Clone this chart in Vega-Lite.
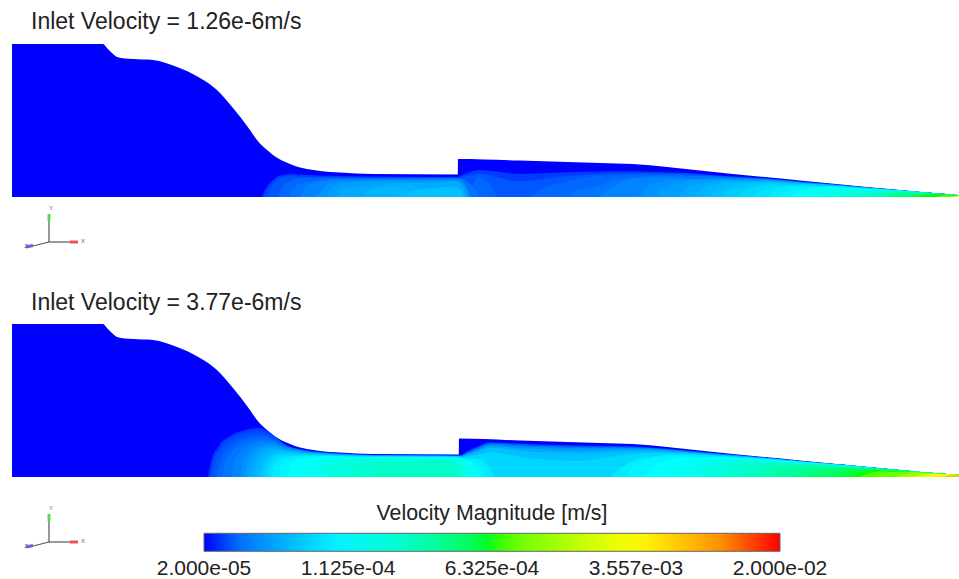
{"$schema":"https://vega.github.io/schema/vega-lite/v6.json","width":959,"height":579,"padding":0,"autosize":{"type":"fit","contains":"padding"},"background":"white","view":{"stroke":null},
"datasets":{
"wall":[{"x":12,"y":44},{"x":103,"y":44},{"x":107,"y":48},{"x":112,"y":53},{"x":117,"y":57},{"x":125,"y":58.5},{"x":133,"y":59},{"x":153,"y":60},{"x":177,"y":67},{"x":200,"y":78},{"x":217,"y":90},{"x":233,"y":108},{"x":250,"y":130},{"x":257,"y":140},{"x":267,"y":150},{"x":273,"y":155},{"x":283,"y":161},{"x":290,"y":164},{"x":300,"y":167.5},{"x":307,"y":169},{"x":320,"y":171},{"x":340,"y":172.5},{"x":373,"y":174},{"x":457.9,"y":174.5},{"x":458,"y":159},{"x":520,"y":160.5},{"x":600,"y":163},{"x":633,"y":164},{"x":667,"y":167},{"x":733,"y":174},{"x":800,"y":180.5},{"x":867,"y":187},{"x":933,"y":193},{"x":959,"y":195}],
"wall2":[{"x":12,"y":324},{"x":103,"y":324},{"x":107,"y":328},{"x":112,"y":333},{"x":117,"y":337},{"x":125,"y":338.5},{"x":133,"y":339},{"x":153,"y":340},{"x":177,"y":347},{"x":200,"y":358},{"x":217,"y":370},{"x":233,"y":388},{"x":250,"y":410},{"x":257,"y":420},{"x":267,"y":430},{"x":273,"y":435},{"x":283,"y":441},{"x":290,"y":444},{"x":300,"y":447.5},{"x":307,"y":449},{"x":320,"y":451},{"x":340,"y":452.5},{"x":373,"y":454},{"x":458.9,"y":454.5},{"x":459,"y":438.5},{"x":520,"y":440.5},{"x":600,"y":443},{"x":633,"y":444},{"x":667,"y":447},{"x":733,"y":454},{"x":800,"y":460.5},{"x":867,"y":467},{"x":933,"y":473},{"x":959,"y":474.7}],
"top":[
{"x":262,"y":197,"v":2.3e-5},{"x":265,"y":190,"v":2.3e-5},{"x":271,"y":182,"v":2.3e-5},{"x":280,"y":175.5,"v":2.3e-5},{"x":290,"y":174,"v":2.3e-5},{"x":300,"y":174.6,"v":2.3e-5},{"x":320,"y":175.5,"v":2.3e-5},{"x":340,"y":176,"v":2.3e-5},{"x":400,"y":176.8,"v":2.3e-5},{"x":457,"y":177,"v":2.3e-5},{"x":462,"y":175,"v":2.3e-5},{"x":470,"y":172,"v":2.3e-5},{"x":480,"y":169.9,"v":2.3e-5},{"x":520,"y":174,"v":2.3e-5},{"x":560,"y":172.5,"v":2.3e-5},{"x":620,"y":171.2,"v":2.3e-5},{"x":680,"y":172.8,"v":2.3e-5},{"x":730,"y":176.3,"v":2.3e-5},{"x":770,"y":178.6,"v":2.3e-5},{"x":800,"y":181.7,"v":2.3e-5},{"x":830,"y":184.1,"v":2.3e-5},{"x":867,"y":187.4,"v":2.3e-5},{"x":900,"y":190.2,"v":2.3e-5},{"x":933,"y":193.1,"v":2.3e-5},{"x":959,"y":195.2,"v":2.3e-5},
{"x":265,"y":197,"v":2.46e-5},{"x":268,"y":190,"v":2.46e-5},{"x":274,"y":181.5,"v":2.46e-5},{"x":282,"y":176.5,"v":2.46e-5},{"x":292,"y":175.5,"v":2.46e-5},{"x":302,"y":178,"v":2.46e-5},{"x":310,"y":197,"v":2.46e-5},
{"x":268,"y":197,"v":2.64e-5},{"x":271,"y":189,"v":2.64e-5},{"x":277,"y":181,"v":2.64e-5},{"x":285,"y":177.5,"v":2.64e-5},{"x":300,"y":177,"v":2.64e-5},{"x":320,"y":177,"v":2.64e-5},{"x":340,"y":177.2,"v":2.64e-5},{"x":400,"y":177.6,"v":2.64e-5},{"x":457,"y":177.6,"v":2.64e-5},{"x":465,"y":176,"v":2.64e-5},{"x":472,"y":175,"v":2.64e-5},{"x":480,"y":173.7,"v":2.64e-5},{"x":500,"y":178,"v":2.64e-5},{"x":520,"y":181.3,"v":2.64e-5},{"x":560,"y":176.7,"v":2.64e-5},{"x":620,"y":172.9,"v":2.64e-5},{"x":680,"y":173.6,"v":2.64e-5},{"x":730,"y":176.6,"v":2.64e-5},{"x":770,"y":178.9,"v":2.64e-5},{"x":800,"y":181.7,"v":2.64e-5},{"x":830,"y":184.2,"v":2.64e-5},{"x":867,"y":187.4,"v":2.64e-5},{"x":900,"y":190.2,"v":2.64e-5},{"x":933,"y":193.1,"v":2.64e-5},{"x":959,"y":195.2,"v":2.64e-5},
{"x":278,"y":197,"v":2.92e-5},{"x":281,"y":190,"v":2.92e-5},{"x":288,"y":182,"v":2.92e-5},{"x":298,"y":179,"v":2.92e-5},{"x":315,"y":178.3,"v":2.92e-5},{"x":335,"y":178,"v":2.92e-5},{"x":350,"y":197,"v":2.92e-5},
{"s":"r","x":470,"y":197,"v":2.92e-5},{"s":"r","x":478,"y":177,"v":2.92e-5},{"s":"r","x":490,"y":185,"v":2.92e-5},{"s":"r","x":497,"y":197,"v":2.92e-5},
{"s":"t","x":530,"y":197,"v":2.92e-5},{"s":"t","x":540,"y":190,"v":2.92e-5},{"s":"t","x":560,"y":183,"v":2.92e-5},{"s":"t","x":620,"y":175,"v":2.92e-5},{"s":"t","x":680,"y":174.5,"v":2.92e-5},{"s":"t","x":700,"y":197,"v":2.92e-5},
{"x":288,"y":197,"v":3.24e-5},{"x":292,"y":190,"v":3.24e-5},{"x":300,"y":184,"v":3.24e-5},{"x":320,"y":180,"v":3.24e-5},{"x":340,"y":178.6,"v":3.24e-5},{"x":400,"y":178.2,"v":3.24e-5},{"x":457,"y":178.2,"v":3.24e-5},{"x":466,"y":181,"v":3.24e-5},{"x":474,"y":188,"v":3.24e-5},{"x":480,"y":197,"v":3.24e-5},
{"s":"t","x":570,"y":197,"v":3.24e-5},{"s":"t","x":575,"y":190,"v":3.24e-5},{"s":"t","x":590,"y":188,"v":3.24e-5},{"s":"t","x":620,"y":178.6,"v":3.24e-5},{"s":"t","x":680,"y":175.6,"v":3.24e-5},{"s":"t","x":730,"y":177.2,"v":3.24e-5},{"s":"t","x":770,"y":179.2,"v":3.24e-5},{"s":"t","x":800,"y":181.9,"v":3.24e-5},{"s":"t","x":830,"y":184.3,"v":3.24e-5},{"s":"t","x":867,"y":187.4,"v":3.24e-5},{"s":"t","x":900,"y":190.2,"v":3.24e-5},{"s":"t","x":933,"y":193.1,"v":3.24e-5},{"s":"t","x":959,"y":195.2,"v":3.24e-5},
{"x":300,"y":197,"v":3.6e-5},{"x":304,"y":190,"v":3.6e-5},{"x":312,"y":183.5,"v":3.6e-5},{"x":325,"y":180.5,"v":3.6e-5},{"x":345,"y":179.3,"v":3.6e-5},{"x":380,"y":179.2,"v":3.6e-5},{"x":390,"y":197,"v":3.6e-5},
{"s":"t","x":600,"y":197,"v":3.6e-5},{"s":"t","x":607,"y":190,"v":3.6e-5},{"s":"t","x":620,"y":183,"v":3.6e-5},{"s":"t","x":640,"y":178,"v":3.6e-5},{"s":"t","x":680,"y":177.2,"v":3.6e-5},{"s":"t","x":700,"y":197,"v":3.6e-5},
{"x":315,"y":197,"v":3.99e-5},{"x":320,"y":192,"v":3.99e-5},{"x":330,"y":183,"v":3.99e-5},{"x":350,"y":181,"v":3.99e-5},{"x":400,"y":179.8,"v":3.99e-5},{"x":457,"y":179.2,"v":3.99e-5},{"x":465,"y":185,"v":3.99e-5},{"x":470,"y":197,"v":3.99e-5},
{"s":"t","x":632,"y":197,"v":3.99e-5},{"s":"t","x":640,"y":195,"v":3.99e-5},{"s":"t","x":650,"y":184,"v":3.99e-5},{"s":"t","x":680,"y":179.3,"v":3.99e-5},{"s":"t","x":730,"y":178.4,"v":3.99e-5},{"s":"t","x":770,"y":179.8,"v":3.99e-5},{"s":"t","x":800,"y":182.3,"v":3.99e-5},{"s":"t","x":830,"y":184.5,"v":3.99e-5},{"s":"t","x":867,"y":187.6,"v":3.99e-5},{"s":"t","x":900,"y":190.3,"v":3.99e-5},{"s":"t","x":933,"y":193.1,"v":3.99e-5},{"s":"t","x":959,"y":195.2,"v":3.99e-5},
{"x":326,"y":197,"v":4.43e-5},{"x":331,"y":188,"v":4.43e-5},{"x":345,"y":182.5,"v":4.43e-5},{"x":365,"y":181.3,"v":4.43e-5},{"x":400,"y":181.2,"v":4.43e-5},{"x":415,"y":197,"v":4.43e-5},
{"s":"t","x":655,"y":197,"v":4.43e-5},{"s":"t","x":662,"y":190,"v":4.43e-5},{"s":"t","x":680,"y":182.5,"v":4.43e-5},{"s":"t","x":705,"y":179.5,"v":4.43e-5},{"s":"t","x":730,"y":179.2,"v":4.43e-5},{"s":"t","x":745,"y":197,"v":4.43e-5},
{"x":338,"y":197,"v":4.91e-5},{"x":345,"y":188,"v":4.91e-5},{"x":360,"y":186,"v":4.91e-5},{"x":400,"y":182.7,"v":4.91e-5},{"x":457,"y":181.2,"v":4.91e-5},{"x":463,"y":186,"v":4.91e-5},{"x":467,"y":197,"v":4.91e-5},
{"s":"t","x":678,"y":197,"v":4.91e-5},{"s":"t","x":690,"y":186,"v":4.91e-5},{"s":"t","x":730,"y":180.2,"v":4.91e-5},{"s":"t","x":770,"y":180.6,"v":4.91e-5},{"s":"t","x":800,"y":182.7,"v":4.91e-5},{"s":"t","x":830,"y":184.7,"v":4.91e-5},{"s":"t","x":867,"y":187.7,"v":4.91e-5},{"s":"t","x":900,"y":190.4,"v":4.91e-5},{"s":"t","x":933,"y":193.2,"v":4.91e-5},{"s":"t","x":959,"y":195.2,"v":4.91e-5},
{"x":362,"y":197,"v":5.45e-5},{"x":370,"y":190,"v":5.45e-5},{"x":385,"y":186,"v":5.45e-5},{"x":410,"y":184.5,"v":5.45e-5},{"x":430,"y":197,"v":5.45e-5},
{"s":"t","x":693,"y":197,"v":5.45e-5},{"s":"t","x":702,"y":189,"v":5.45e-5},{"s":"t","x":730,"y":182,"v":5.45e-5},{"s":"t","x":770,"y":181.2,"v":5.45e-5},{"s":"t","x":785,"y":197,"v":5.45e-5},
{"x":395,"y":197,"v":6.04e-5},{"x":400,"y":196,"v":6.04e-5},{"x":410,"y":192,"v":6.04e-5},{"x":430,"y":188,"v":6.04e-5},{"x":457,"y":186.4,"v":6.04e-5},{"x":461,"y":190,"v":6.04e-5},{"x":464,"y":197,"v":6.04e-5},
{"s":"t","x":708,"y":197,"v":6.04e-5},{"s":"t","x":715,"y":192,"v":6.04e-5},{"s":"t","x":730,"y":184.2,"v":6.04e-5},{"s":"t","x":770,"y":182,"v":6.04e-5},{"s":"t","x":800,"y":183.3,"v":6.04e-5},{"s":"t","x":830,"y":185,"v":6.04e-5},{"s":"t","x":867,"y":187.9,"v":6.04e-5},{"s":"t","x":900,"y":190.4,"v":6.04e-5},{"s":"t","x":933,"y":193.2,"v":6.04e-5},{"s":"t","x":959,"y":195.2,"v":6.04e-5},
{"x":722,"y":197,"v":6.7e-5},{"x":730,"y":190,"v":6.7e-5},{"x":750,"y":185,"v":6.7e-5},{"x":775,"y":183,"v":6.7e-5},{"x":800,"y":183.7,"v":6.7e-5},{"x":810,"y":197,"v":6.7e-5},
{"x":736,"y":197,"v":7.43e-5},{"x":745,"y":190,"v":7.43e-5},{"x":770,"y":184.6,"v":7.43e-5},{"x":800,"y":184.1,"v":7.43e-5},{"x":830,"y":185.4,"v":7.43e-5},{"x":867,"y":188.1,"v":7.43e-5},{"x":900,"y":190.4,"v":7.43e-5},{"x":933,"y":193.2,"v":7.43e-5},{"x":959,"y":195.2,"v":7.43e-5},
{"x":752,"y":197,"v":8.24e-5},{"x":760,"y":191,"v":8.24e-5},{"x":785,"y":186,"v":8.24e-5},{"x":815,"y":185.8,"v":8.24e-5},{"x":830,"y":197,"v":8.24e-5},
{"x":768,"y":197,"v":9.14e-5},{"x":775,"y":190,"v":9.14e-5},{"x":800,"y":185.9,"v":9.14e-5},{"x":830,"y":185.9,"v":9.14e-5},{"x":867,"y":188.4,"v":9.14e-5},{"x":900,"y":190.5,"v":9.14e-5},{"x":933,"y":193.2,"v":9.14e-5},{"x":959,"y":195.2,"v":9.14e-5},
{"x":779,"y":197,"v":1.01e-4},{"x":787,"y":191,"v":1.01e-4},{"x":810,"y":187.3,"v":1.01e-4},{"x":840,"y":187,"v":1.01e-4},{"x":850,"y":197,"v":1.01e-4},
{"x":790,"y":197,"v":1.125e-4},{"x":800,"y":190.4,"v":1.125e-4},{"x":830,"y":186.9,"v":1.125e-4},{"x":867,"y":188.7,"v":1.125e-4},{"x":900,"y":190.6,"v":1.125e-4},{"x":933,"y":193.3,"v":1.125e-4},{"x":959,"y":195.2,"v":1.125e-4},
{"x":800,"y":197,"v":1.25e-4},{"x":810,"y":192,"v":1.25e-4},{"x":830,"y":187.7,"v":1.25e-4},{"x":860,"y":188.8,"v":1.25e-4},{"x":870,"y":197,"v":1.25e-4},
{"x":810,"y":197,"v":1.38e-4},{"x":830,"y":188.6,"v":1.38e-4},{"x":867,"y":189.4,"v":1.38e-4},{"x":900,"y":190.8,"v":1.38e-4},{"x":933,"y":193.4,"v":1.38e-4},{"x":959,"y":195.3,"v":1.38e-4},
{"x":823,"y":197,"v":1.59e-4},{"x":835,"y":191,"v":1.59e-4},{"x":860,"y":190,"v":1.59e-4},{"x":895,"y":191,"v":1.59e-4},{"x":905,"y":197,"v":1.59e-4},
{"x":836,"y":197,"v":1.82e-4},{"x":850,"y":192,"v":1.82e-4},{"x":867,"y":191.2,"v":1.82e-4},{"x":900,"y":191,"v":1.82e-4},{"x":933,"y":193.3,"v":1.82e-4},{"x":959,"y":195.3,"v":1.82e-4},
{"x":852,"y":197,"v":2.09e-4},{"x":862,"y":193,"v":2.09e-4},{"x":880,"y":191.8,"v":2.09e-4},{"x":915,"y":192.5,"v":2.09e-4},{"x":925,"y":197,"v":2.09e-4},
{"x":868,"y":197,"v":2.4e-4},{"x":880,"y":193,"v":2.4e-4},{"x":900,"y":191.4,"v":2.4e-4},{"x":933,"y":193.4,"v":2.4e-4},{"x":959,"y":195.4,"v":2.4e-4},
{"x":874,"y":197,"v":2.76e-4},{"x":885,"y":194,"v":2.76e-4},{"x":900,"y":191.9,"v":2.76e-4},{"x":925,"y":193.3,"v":2.76e-4},{"x":935,"y":197,"v":2.76e-4},
{"x":880,"y":197,"v":3.17e-4},{"x":900,"y":192.3,"v":3.17e-4},{"x":933,"y":193.5,"v":3.17e-4},{"x":959,"y":195.4,"v":3.17e-4},
{"x":891,"y":197,"v":3.76e-4},{"x":905,"y":194,"v":3.76e-4},{"x":925,"y":193.5,"v":3.76e-4},{"x":940,"y":197,"v":3.76e-4},
{"x":902,"y":197,"v":4.47e-4},{"x":915,"y":194.5,"v":4.47e-4},{"x":933,"y":193.7,"v":4.47e-4},{"x":959,"y":195.4,"v":4.47e-4},
{"x":908,"y":197,"v":5.31e-4},{"x":920,"y":195,"v":5.31e-4},{"x":935,"y":194,"v":5.31e-4},{"x":950,"y":197,"v":5.31e-4},
{"x":915,"y":197,"v":6.32e-4},{"x":933,"y":194.2,"v":6.32e-4},{"x":959,"y":195.5,"v":6.32e-4},
{"x":935,"y":197,"v":8.93e-4},{"x":945,"y":195.5,"v":8.93e-4},{"x":959,"y":195.5,"v":8.93e-4},
{"x":948,"y":197,"v":1.26e-3},{"x":952,"y":196,"v":1.26e-3},{"x":959,"y":195.5,"v":1.26e-3},
{"x":954,"y":197,"v":1.91e-3},{"x":959,"y":195.6,"v":1.91e-3},
{"x":957,"y":197,"v":2.88e-3},{"x":959,"y":195.7,"v":2.88e-3}
],
"bottom":[
{"x":208,"y":477,"v":2.3e-5},{"x":211,"y":462,"v":2.3e-5},{"x":218,"y":447,"v":2.3e-5},{"x":230,"y":436,"v":2.3e-5},{"x":245,"y":430,"v":2.3e-5},{"x":258,"y":428,"v":2.3e-5},{"x":268,"y":431.5,"v":2.3e-5},{"x":280,"y":440.5,"v":2.3e-5},{"x":287,"y":445.4,"v":2.3e-5},{"x":305,"y":450,"v":2.3e-5},{"x":323,"y":452.2,"v":2.3e-5},{"x":345,"y":453.7,"v":2.3e-5},{"x":373,"y":454.9,"v":2.3e-5},{"x":457,"y":455.4,"v":2.3e-5},{"x":460,"y":455.4,"v":2.3e-5},{"x":468,"y":451,"v":2.3e-5},{"x":478,"y":446.5,"v":2.3e-5},{"x":490,"y":442.4,"v":2.3e-5},{"x":520,"y":443.6,"v":2.3e-5},{"x":580,"y":445.6,"v":2.3e-5},{"x":620,"y":446,"v":2.3e-5},{"x":647,"y":447.2,"v":2.3e-5},{"x":680,"y":449.9,"v":2.3e-5},{"x":713,"y":453,"v":2.3e-5},{"x":747,"y":456,"v":2.3e-5},{"x":780,"y":459.1,"v":2.3e-5},{"x":815,"y":462.4,"v":2.3e-5},{"x":847,"y":465,"v":2.3e-5},{"x":875,"y":467.8,"v":2.3e-5},{"x":897,"y":469.7,"v":2.3e-5},{"x":915,"y":471.4,"v":2.3e-5},{"x":930,"y":472.8,"v":2.3e-5},{"x":947,"y":474,"v":2.3e-5},{"x":959,"y":474.9,"v":2.3e-5},
{"x":210,"y":477,"v":2.46e-5},{"x":213,"y":462,"v":2.46e-5},{"x":220,"y":448,"v":2.46e-5},{"x":231,"y":438,"v":2.46e-5},{"x":246,"y":432.5,"v":2.46e-5},{"x":259,"y":431,"v":2.46e-5},{"x":269,"y":434,"v":2.46e-5},{"x":280,"y":441,"v":2.46e-5},{"x":285,"y":450,"v":2.46e-5},{"x":290,"y":477,"v":2.46e-5},
{"x":212,"y":477,"v":2.64e-5},{"x":215,"y":462,"v":2.64e-5},{"x":222,"y":449,"v":2.64e-5},{"x":233,"y":440,"v":2.64e-5},{"x":247,"y":435,"v":2.64e-5},{"x":260,"y":434,"v":2.64e-5},{"x":270,"y":436,"v":2.64e-5},{"x":280,"y":441,"v":2.64e-5},{"x":287,"y":445.8,"v":2.64e-5},{"x":305,"y":450.3,"v":2.64e-5},{"x":323,"y":452.4,"v":2.64e-5},{"x":345,"y":453.8,"v":2.64e-5},{"x":373,"y":455,"v":2.64e-5},{"x":457,"y":455.5,"v":2.64e-5},{"x":460,"y":455.5,"v":2.64e-5},{"x":468,"y":451.5,"v":2.64e-5},{"x":478,"y":447,"v":2.64e-5},{"x":490,"y":442.8,"v":2.64e-5},{"x":520,"y":444,"v":2.64e-5},{"x":580,"y":446,"v":2.64e-5},{"x":620,"y":446.4,"v":2.64e-5},{"x":647,"y":447.4,"v":2.64e-5},{"x":680,"y":450.1,"v":2.64e-5},{"x":713,"y":453.1,"v":2.64e-5},{"x":747,"y":456,"v":2.64e-5},{"x":780,"y":459.1,"v":2.64e-5},{"x":815,"y":462.4,"v":2.64e-5},{"x":847,"y":465,"v":2.64e-5},{"x":875,"y":467.8,"v":2.64e-5},{"x":897,"y":469.7,"v":2.64e-5},{"x":915,"y":471.4,"v":2.64e-5},{"x":930,"y":472.8,"v":2.64e-5},{"x":947,"y":474,"v":2.64e-5},{"x":959,"y":474.9,"v":2.64e-5},
{"x":217,"y":477,"v":2.92e-5},{"x":220,"y":462,"v":2.92e-5},{"x":227,"y":450.5,"v":2.92e-5},{"x":238,"y":442,"v":2.92e-5},{"x":251,"y":437.5,"v":2.92e-5},{"x":262,"y":436.5,"v":2.92e-5},{"x":272,"y":438.5,"v":2.92e-5},{"x":282,"y":445,"v":2.92e-5},{"x":290,"y":477,"v":2.92e-5},
{"x":222,"y":477,"v":3.24e-5},{"x":225,"y":462,"v":3.24e-5},{"x":232,"y":452,"v":3.24e-5},{"x":243,"y":444,"v":3.24e-5},{"x":255,"y":440,"v":3.24e-5},{"x":265,"y":439,"v":3.24e-5},{"x":275,"y":441,"v":3.24e-5},{"x":287,"y":446.3,"v":3.24e-5},{"x":305,"y":450.7,"v":3.24e-5},{"x":323,"y":452.7,"v":3.24e-5},{"x":345,"y":454,"v":3.24e-5},{"x":373,"y":455.1,"v":3.24e-5},{"x":457,"y":455.7,"v":3.24e-5},{"x":460,"y":455.8,"v":3.24e-5},{"x":468,"y":452,"v":3.24e-5},{"x":478,"y":448,"v":3.24e-5},{"x":490,"y":443.5,"v":3.24e-5},{"x":520,"y":445,"v":3.24e-5},{"x":580,"y":447,"v":3.24e-5},{"x":620,"y":447.2,"v":3.24e-5},{"x":647,"y":448,"v":3.24e-5},{"x":680,"y":450.5,"v":3.24e-5},{"x":713,"y":453.4,"v":3.24e-5},{"x":747,"y":456.2,"v":3.24e-5},{"x":780,"y":459.2,"v":3.24e-5},{"x":815,"y":462.5,"v":3.24e-5},{"x":847,"y":465.1,"v":3.24e-5},{"x":875,"y":467.8,"v":3.24e-5},{"x":897,"y":469.7,"v":3.24e-5},{"x":915,"y":471.4,"v":3.24e-5},{"x":930,"y":472.8,"v":3.24e-5},{"x":947,"y":474,"v":3.24e-5},{"x":959,"y":474.9,"v":3.24e-5},
{"x":231,"y":477,"v":3.6e-5},{"x":234,"y":462,"v":3.6e-5},{"x":240,"y":452.5,"v":3.6e-5},{"x":249,"y":445.5,"v":3.6e-5},{"x":260,"y":441.5,"v":3.6e-5},{"x":270,"y":441.5,"v":3.6e-5},{"x":280,"y":446,"v":3.6e-5},{"x":292,"y":477,"v":3.6e-5},
{"x":240,"y":477,"v":3.99e-5},{"x":243,"y":462,"v":3.99e-5},{"x":248,"y":453,"v":3.99e-5},{"x":255,"y":447,"v":3.99e-5},{"x":265,"y":444,"v":3.99e-5},{"x":275,"y":444.5,"v":3.99e-5},{"x":287,"y":447.5,"v":3.99e-5},{"x":305,"y":451.2,"v":3.99e-5},{"x":323,"y":453,"v":3.99e-5},{"x":345,"y":454.2,"v":3.99e-5},{"x":373,"y":455.3,"v":3.99e-5},{"x":457,"y":455.9,"v":3.99e-5},{"x":460,"y":456,"v":3.99e-5},{"x":468,"y":453,"v":3.99e-5},{"x":478,"y":449,"v":3.99e-5},{"x":490,"y":444.5,"v":3.99e-5},{"x":520,"y":446.2,"v":3.99e-5},{"x":580,"y":448,"v":3.99e-5},{"x":620,"y":448,"v":3.99e-5},{"x":647,"y":448.5,"v":3.99e-5},{"x":680,"y":450.9,"v":3.99e-5},{"x":713,"y":453.8,"v":3.99e-5},{"x":747,"y":456.3,"v":3.99e-5},{"x":780,"y":459.2,"v":3.99e-5},{"x":815,"y":462.5,"v":3.99e-5},{"x":847,"y":465.2,"v":3.99e-5},{"x":875,"y":467.8,"v":3.99e-5},{"x":897,"y":469.7,"v":3.99e-5},{"x":915,"y":471.4,"v":3.99e-5},{"x":930,"y":472.8,"v":3.99e-5},{"x":947,"y":474,"v":3.99e-5},{"x":959,"y":474.9,"v":3.99e-5},
{"x":244,"y":477,"v":4.43e-5},{"x":247,"y":463.5,"v":4.43e-5},{"x":252,"y":454.5,"v":4.43e-5},{"x":259,"y":448.5,"v":4.43e-5},{"x":268,"y":446,"v":4.43e-5},{"x":277,"y":446.5,"v":4.43e-5},{"x":285,"y":450,"v":4.43e-5},{"x":296,"y":477,"v":4.43e-5},
{"x":248,"y":477,"v":4.91e-5},{"x":251,"y":465,"v":4.91e-5},{"x":256,"y":456,"v":4.91e-5},{"x":263,"y":450,"v":4.91e-5},{"x":272,"y":448,"v":4.91e-5},{"x":280,"y":448.5,"v":4.91e-5},{"x":287,"y":449.5,"v":4.91e-5},{"x":305,"y":452,"v":4.91e-5},{"x":323,"y":453.4,"v":4.91e-5},{"x":345,"y":454.5,"v":4.91e-5},{"x":373,"y":455.5,"v":4.91e-5},{"x":457,"y":456.1,"v":4.91e-5},{"x":460,"y":456.2,"v":4.91e-5},{"x":468,"y":454,"v":4.91e-5},{"x":478,"y":450.5,"v":4.91e-5},{"x":490,"y":446,"v":4.91e-5},{"x":520,"y":448.2,"v":4.91e-5},{"x":580,"y":450.2,"v":4.91e-5},{"x":620,"y":449.6,"v":4.91e-5},{"x":647,"y":449.6,"v":4.91e-5},{"x":680,"y":451.5,"v":4.91e-5},{"x":713,"y":454.1,"v":4.91e-5},{"x":747,"y":456.5,"v":4.91e-5},{"x":780,"y":459.4,"v":4.91e-5},{"x":815,"y":462.6,"v":4.91e-5},{"x":847,"y":465.2,"v":4.91e-5},{"x":875,"y":467.9,"v":4.91e-5},{"x":897,"y":469.7,"v":4.91e-5},{"x":915,"y":471.4,"v":4.91e-5},{"x":930,"y":472.8,"v":4.91e-5},{"x":947,"y":474,"v":4.91e-5},{"x":959,"y":474.9,"v":4.91e-5},
{"x":253,"y":477,"v":5.45e-5},{"x":256,"y":465,"v":5.45e-5},{"x":261,"y":456.5,"v":5.45e-5},{"x":267,"y":451.5,"v":5.45e-5},{"x":276,"y":449.5,"v":5.45e-5},{"x":284,"y":450,"v":5.45e-5},{"x":290,"y":453,"v":5.45e-5},{"x":300,"y":477,"v":5.45e-5},
{"x":258,"y":477,"v":6.04e-5},{"x":261,"y":465,"v":6.04e-5},{"x":266,"y":457,"v":6.04e-5},{"x":272,"y":453,"v":6.04e-5},{"x":280,"y":451.5,"v":6.04e-5},{"x":287,"y":451.5,"v":6.04e-5},{"x":305,"y":452.8,"v":6.04e-5},{"x":323,"y":454,"v":6.04e-5},{"x":345,"y":455,"v":6.04e-5},{"x":373,"y":455.8,"v":6.04e-5},{"x":457,"y":456.3,"v":6.04e-5},{"x":460,"y":456.5,"v":6.04e-5},{"x":468,"y":455,"v":6.04e-5},{"x":478,"y":452,"v":6.04e-5},{"x":490,"y":447.8,"v":6.04e-5},{"x":520,"y":450.7,"v":6.04e-5},{"x":580,"y":452.9,"v":6.04e-5},{"x":620,"y":451.4,"v":6.04e-5},{"x":647,"y":450.9,"v":6.04e-5},{"x":680,"y":452.2,"v":6.04e-5},{"x":713,"y":454.5,"v":6.04e-5},{"x":747,"y":456.8,"v":6.04e-5},{"x":780,"y":459.6,"v":6.04e-5},{"x":815,"y":462.7,"v":6.04e-5},{"x":847,"y":465.2,"v":6.04e-5},{"x":875,"y":467.9,"v":6.04e-5},{"x":897,"y":469.7,"v":6.04e-5},{"x":915,"y":471.4,"v":6.04e-5},{"x":930,"y":472.8,"v":6.04e-5},{"x":947,"y":474,"v":6.04e-5},{"x":959,"y":474.9,"v":6.04e-5},
{"x":261,"y":477,"v":6.7e-5},{"x":264,"y":466,"v":6.7e-5},{"x":269,"y":458,"v":6.7e-5},{"x":275,"y":454,"v":6.7e-5},{"x":283,"y":453,"v":6.7e-5},{"x":292,"y":454,"v":6.7e-5},{"x":300,"y":458,"v":6.7e-5},{"x":310,"y":477,"v":6.7e-5},
{"x":265,"y":477,"v":7.43e-5},{"x":267,"y":467,"v":7.43e-5},{"x":272,"y":459,"v":7.43e-5},{"x":278,"y":455.5,"v":7.43e-5},{"x":287,"y":454.5,"v":7.43e-5},{"x":305,"y":454.2,"v":7.43e-5},{"x":323,"y":454.8,"v":7.43e-5},{"x":345,"y":455.5,"v":7.43e-5},{"x":373,"y":456.1,"v":7.43e-5},{"x":457,"y":456.6,"v":7.43e-5},{"x":460,"y":457,"v":7.43e-5},{"x":468,"y":456.5,"v":7.43e-5},{"x":478,"y":455,"v":7.43e-5},{"x":490,"y":451.9,"v":7.43e-5},{"x":520,"y":456.9,"v":7.43e-5},{"x":580,"y":460.8,"v":7.43e-5},{"x":620,"y":455.4,"v":7.43e-5},{"x":647,"y":453,"v":7.43e-5},{"x":680,"y":453.3,"v":7.43e-5},{"x":713,"y":455,"v":7.43e-5},{"x":747,"y":457.2,"v":7.43e-5},{"x":780,"y":459.8,"v":7.43e-5},{"x":815,"y":462.8,"v":7.43e-5},{"x":847,"y":465.3,"v":7.43e-5},{"x":875,"y":467.9,"v":7.43e-5},{"x":897,"y":469.7,"v":7.43e-5},{"x":915,"y":471.4,"v":7.43e-5},{"x":930,"y":472.8,"v":7.43e-5},{"x":947,"y":474,"v":7.43e-5},{"x":959,"y":474.9,"v":7.43e-5},
{"x":268,"y":477,"v":8.24e-5},{"x":270,"y":467,"v":8.24e-5},{"x":275,"y":459.5,"v":8.24e-5},{"x":282,"y":456.5,"v":8.24e-5},{"x":295,"y":456,"v":8.24e-5},{"x":310,"y":458,"v":8.24e-5},{"x":320,"y":477,"v":8.24e-5},
{"x":271,"y":477,"v":9.14e-5},{"x":274,"y":467,"v":9.14e-5},{"x":279,"y":460,"v":9.14e-5},{"x":287,"y":457,"v":9.14e-5},{"x":305,"y":455.5,"v":9.14e-5},{"x":323,"y":455.5,"v":9.14e-5},{"x":345,"y":456,"v":9.14e-5},{"x":373,"y":456.5,"v":9.14e-5},{"x":457,"y":457,"v":9.14e-5},{"x":462,"y":458,"v":9.14e-5},{"x":468,"y":458.5,"v":9.14e-5},{"x":478,"y":459,"v":9.14e-5},{"x":488,"y":465,"v":9.14e-5},{"x":494,"y":477,"v":9.14e-5},
{"s":"t","x":610,"y":477,"v":9.14e-5},{"s":"t","x":620,"y":468.6,"v":9.14e-5},{"s":"t","x":647,"y":457.2,"v":9.14e-5},{"s":"t","x":680,"y":454.8,"v":9.14e-5},{"s":"t","x":713,"y":455.8,"v":9.14e-5},{"s":"t","x":747,"y":457.6,"v":9.14e-5},{"s":"t","x":780,"y":460,"v":9.14e-5},{"s":"t","x":815,"y":463,"v":9.14e-5},{"s":"t","x":847,"y":465.4,"v":9.14e-5},{"s":"t","x":875,"y":468,"v":9.14e-5},{"s":"t","x":897,"y":469.8,"v":9.14e-5},{"s":"t","x":915,"y":471.4,"v":9.14e-5},{"s":"t","x":930,"y":472.8,"v":9.14e-5},{"s":"t","x":947,"y":474,"v":9.14e-5},{"s":"t","x":959,"y":474.9,"v":9.14e-5},
{"x":278,"y":477,"v":1.01e-4},{"x":281,"y":467,"v":1.01e-4},{"x":286,"y":461,"v":1.01e-4},{"x":295,"y":458.5,"v":1.01e-4},{"x":310,"y":458,"v":1.01e-4},{"x":330,"y":460,"v":1.01e-4},{"x":340,"y":477,"v":1.01e-4},
{"s":"r","x":440,"y":477,"v":1.01e-4},{"s":"r","x":445,"y":460,"v":1.01e-4},{"s":"r","x":460,"y":460,"v":1.01e-4},{"s":"r","x":470,"y":460,"v":1.01e-4},{"s":"r","x":478,"y":464,"v":1.01e-4},{"s":"r","x":487,"y":477,"v":1.01e-4},
{"s":"t","x":627,"y":477,"v":1.01e-4},{"s":"t","x":635,"y":464,"v":1.01e-4},{"s":"t","x":647,"y":459.5,"v":1.01e-4},{"s":"t","x":665,"y":456.5,"v":1.01e-4},{"s":"t","x":690,"y":457,"v":1.01e-4},{"s":"t","x":700,"y":477,"v":1.01e-4},
{"x":287,"y":477,"v":1.125e-4},{"x":289,"y":468,"v":1.125e-4},{"x":293,"y":462,"v":1.125e-4},{"x":305,"y":457.5,"v":1.125e-4},{"x":323,"y":456.5,"v":1.125e-4},{"x":345,"y":456.7,"v":1.125e-4},{"x":373,"y":457,"v":1.125e-4},{"x":457,"y":457.5,"v":1.125e-4},{"x":462,"y":459,"v":1.125e-4},{"x":470,"y":462,"v":1.125e-4},{"x":478,"y":470,"v":1.125e-4},{"x":480,"y":477,"v":1.125e-4},
{"s":"t","x":645,"y":477,"v":1.125e-4},{"s":"t","x":650,"y":470,"v":1.125e-4},{"s":"t","x":680,"y":457.9,"v":1.125e-4},{"s":"t","x":713,"y":457,"v":1.125e-4},{"s":"t","x":747,"y":458.3,"v":1.125e-4},{"s":"t","x":780,"y":460.4,"v":1.125e-4},{"s":"t","x":815,"y":463.1,"v":1.125e-4},{"s":"t","x":847,"y":465.5,"v":1.125e-4},{"s":"t","x":875,"y":468,"v":1.125e-4},{"s":"t","x":897,"y":469.8,"v":1.125e-4},{"s":"t","x":915,"y":471.4,"v":1.125e-4},{"s":"t","x":930,"y":472.8,"v":1.125e-4},{"s":"t","x":947,"y":474,"v":1.125e-4},{"s":"t","x":959,"y":474.9,"v":1.125e-4},
{"x":295,"y":477,"v":1.25e-4},{"x":298,"y":468,"v":1.25e-4},{"x":303,"y":461.5,"v":1.25e-4},{"x":313,"y":458.5,"v":1.25e-4},{"x":330,"y":458,"v":1.25e-4},{"x":350,"y":459,"v":1.25e-4},{"x":360,"y":477,"v":1.25e-4},
{"s":"r","x":440,"y":477,"v":1.25e-4},{"s":"r","x":445,"y":462,"v":1.25e-4},{"s":"r","x":462,"y":461,"v":1.25e-4},{"s":"r","x":470,"y":464,"v":1.25e-4},{"s":"r","x":476,"y":470,"v":1.25e-4},{"s":"r","x":478,"y":477,"v":1.25e-4},
{"s":"t","x":658,"y":477,"v":1.25e-4},{"s":"t","x":665,"y":466,"v":1.25e-4},{"s":"t","x":680,"y":461,"v":1.25e-4},{"s":"t","x":700,"y":458.5,"v":1.25e-4},{"s":"t","x":720,"y":458,"v":1.25e-4},{"s":"t","x":730,"y":477,"v":1.25e-4},
{"x":305,"y":477,"v":1.38e-4},{"x":307,"y":468,"v":1.38e-4},{"x":312,"y":462,"v":1.38e-4},{"x":323,"y":458.5,"v":1.38e-4},{"x":345,"y":457.7,"v":1.38e-4},{"x":373,"y":457.8,"v":1.38e-4},{"x":457,"y":458.2,"v":1.38e-4},{"x":463,"y":461,"v":1.38e-4},{"x":468,"y":466,"v":1.38e-4},{"x":473,"y":477,"v":1.38e-4},
{"s":"t","x":672,"y":477,"v":1.38e-4},{"s":"t","x":680,"y":465.6,"v":1.38e-4},{"s":"t","x":713,"y":459,"v":1.38e-4},{"s":"t","x":747,"y":459.2,"v":1.38e-4},{"s":"t","x":780,"y":460.9,"v":1.38e-4},{"s":"t","x":815,"y":463.4,"v":1.38e-4},{"s":"t","x":847,"y":465.7,"v":1.38e-4},{"s":"t","x":875,"y":468.1,"v":1.38e-4},{"s":"t","x":897,"y":469.9,"v":1.38e-4},{"s":"t","x":915,"y":471.5,"v":1.38e-4},{"s":"t","x":930,"y":472.8,"v":1.38e-4},{"s":"t","x":947,"y":474,"v":1.38e-4},{"s":"t","x":959,"y":474.9,"v":1.38e-4},
{"x":316,"y":477,"v":1.59e-4},{"x":319,"y":468,"v":1.59e-4},{"x":326,"y":461.5,"v":1.59e-4},{"x":338,"y":459,"v":1.59e-4},{"x":355,"y":458.5,"v":1.59e-4},{"x":380,"y":459,"v":1.59e-4},{"x":390,"y":477,"v":1.59e-4},
{"s":"r","x":440,"y":477,"v":1.59e-4},{"s":"r","x":445,"y":463,"v":1.59e-4},{"s":"r","x":460,"y":462,"v":1.59e-4},{"s":"r","x":466,"y":467,"v":1.59e-4},{"s":"r","x":470,"y":477,"v":1.59e-4},
{"s":"t","x":687,"y":477,"v":1.59e-4},{"s":"t","x":695,"y":468,"v":1.59e-4},{"s":"t","x":713,"y":461.5,"v":1.59e-4},{"s":"t","x":735,"y":459.8,"v":1.59e-4},{"s":"t","x":755,"y":460,"v":1.59e-4},{"s":"t","x":765,"y":477,"v":1.59e-4},
{"x":328,"y":477,"v":1.82e-4},{"x":332,"y":468,"v":1.82e-4},{"x":340,"y":461,"v":1.82e-4},{"x":350,"y":459.5,"v":1.82e-4},{"x":373,"y":459.2,"v":1.82e-4},{"x":440,"y":459,"v":1.82e-4},{"x":457,"y":459.8,"v":1.82e-4},{"x":461,"y":463,"v":1.82e-4},{"x":464,"y":470,"v":1.82e-4},{"x":466,"y":477,"v":1.82e-4},
{"s":"t","x":703,"y":477,"v":1.82e-4},{"s":"t","x":713,"y":467,"v":1.82e-4},{"s":"t","x":747,"y":461.3,"v":1.82e-4},{"s":"t","x":780,"y":461.9,"v":1.82e-4},{"s":"t","x":815,"y":463.8,"v":1.82e-4},{"s":"t","x":847,"y":465.9,"v":1.82e-4},{"s":"t","x":875,"y":468.3,"v":1.82e-4},{"s":"t","x":897,"y":469.9,"v":1.82e-4},{"s":"t","x":915,"y":471.5,"v":1.82e-4},{"s":"t","x":930,"y":472.9,"v":1.82e-4},{"s":"t","x":947,"y":474,"v":1.82e-4},{"s":"t","x":959,"y":474.9,"v":1.82e-4},
{"x":350,"y":477,"v":2.09e-4},{"x":354,"y":470,"v":2.09e-4},{"x":362,"y":462.5,"v":2.09e-4},{"x":375,"y":461,"v":2.09e-4},{"x":440,"y":461,"v":2.09e-4},{"x":452,"y":461.5,"v":2.09e-4},{"x":458,"y":467,"v":2.09e-4},{"x":460,"y":477,"v":2.09e-4},
{"s":"t","x":721,"y":477,"v":2.09e-4},{"s":"t","x":730,"y":468,"v":2.09e-4},{"s":"t","x":747,"y":463,"v":2.09e-4},{"s":"t","x":770,"y":462.5,"v":2.09e-4},{"s":"t","x":790,"y":463,"v":2.09e-4},{"s":"t","x":800,"y":477,"v":2.09e-4},
{"x":373,"y":477,"v":2.24e-4},{"x":376,"y":470,"v":2.24e-4},{"x":385,"y":463,"v":2.24e-4},{"x":440,"y":462,"v":2.24e-4},{"x":452,"y":463,"v":2.24e-4},{"x":458,"y":470,"v":2.24e-4},{"x":459,"y":477,"v":2.24e-4},
{"x":740,"y":477,"v":2.4e-4},{"x":747,"y":468.3,"v":2.4e-4},{"x":780,"y":463.7,"v":2.4e-4},{"x":815,"y":464.6,"v":2.4e-4},{"x":847,"y":466.3,"v":2.4e-4},{"x":875,"y":468.4,"v":2.4e-4},{"x":897,"y":470,"v":2.4e-4},{"x":915,"y":471.5,"v":2.4e-4},{"x":930,"y":472.9,"v":2.4e-4},{"x":947,"y":474,"v":2.4e-4},{"x":959,"y":474.9,"v":2.4e-4},
{"x":756,"y":477,"v":2.76e-4},{"x":765,"y":469,"v":2.76e-4},{"x":780,"y":466,"v":2.76e-4},{"x":805,"y":465,"v":2.76e-4},{"x":825,"y":466,"v":2.76e-4},{"x":835,"y":477,"v":2.76e-4},
{"x":772,"y":477,"v":3.17e-4},{"x":780,"y":469.6,"v":3.17e-4},{"x":815,"y":466,"v":3.17e-4},{"x":847,"y":466.9,"v":3.17e-4},{"x":875,"y":468.6,"v":3.17e-4},{"x":897,"y":470.1,"v":3.17e-4},{"x":915,"y":471.6,"v":3.17e-4},{"x":930,"y":472.9,"v":3.17e-4},{"x":947,"y":474,"v":3.17e-4},{"x":959,"y":474.9,"v":3.17e-4},
{"x":791,"y":477,"v":3.76e-4},{"x":800,"y":472,"v":3.76e-4},{"x":815,"y":469,"v":3.76e-4},{"x":840,"y":467.5,"v":3.76e-4},{"x":860,"y":468,"v":3.76e-4},{"x":870,"y":477,"v":3.76e-4},
{"x":810,"y":477,"v":4.47e-4},{"x":815,"y":473.3,"v":4.47e-4},{"x":847,"y":468.2,"v":4.47e-4},{"x":875,"y":469.2,"v":4.47e-4},{"x":897,"y":470.3,"v":4.47e-4},{"x":915,"y":471.7,"v":4.47e-4},{"x":930,"y":472.9,"v":4.47e-4},{"x":947,"y":474,"v":4.47e-4},{"x":959,"y":474.9,"v":4.47e-4},
{"x":828,"y":477,"v":5.31e-4},{"x":840,"y":472.5,"v":5.31e-4},{"x":860,"y":469.3,"v":5.31e-4},{"x":880,"y":469.5,"v":5.31e-4},{"x":895,"y":477,"v":5.31e-4},
{"x":845,"y":477,"v":6.32e-4},{"x":860,"y":473,"v":6.32e-4},{"x":875,"y":470.2,"v":6.32e-4},{"x":897,"y":470.8,"v":6.32e-4},{"x":915,"y":471.9,"v":6.32e-4},{"x":930,"y":473,"v":6.32e-4},{"x":947,"y":474.1,"v":6.32e-4},{"x":959,"y":474.9,"v":6.32e-4},
{"x":860,"y":477,"v":7.5e-4},{"x":870,"y":473,"v":7.5e-4},{"x":885,"y":471,"v":7.5e-4},{"x":905,"y":477,"v":7.5e-4},
{"x":873,"y":477,"v":8.93e-4},{"x":885,"y":473.5,"v":8.93e-4},{"x":897,"y":471.6,"v":8.93e-4},{"x":915,"y":472.1,"v":8.93e-4},{"x":930,"y":473,"v":8.93e-4},{"x":947,"y":474.2,"v":8.93e-4},{"x":959,"y":474.9,"v":8.93e-4},
{"x":895,"y":477,"v":1.26e-3},{"x":905,"y":474,"v":1.26e-3},{"x":915,"y":472.6,"v":1.26e-3},{"x":930,"y":473.2,"v":1.26e-3},{"x":947,"y":474.2,"v":1.26e-3},{"x":959,"y":475,"v":1.26e-3},
{"x":912,"y":477,"v":1.91e-3},{"x":920,"y":474.5,"v":1.91e-3},{"x":930,"y":473.5,"v":1.91e-3},{"x":947,"y":474.3,"v":1.91e-3},{"x":959,"y":475,"v":1.91e-3},
{"x":925,"y":477,"v":2.88e-3},{"x":930,"y":474.3,"v":2.88e-3},{"x":947,"y":474.5,"v":2.88e-3},{"x":959,"y":475,"v":2.88e-3},
{"x":934,"y":477,"v":4.37e-3},{"x":947,"y":475,"v":4.37e-3},{"x":959,"y":475.2,"v":4.37e-3},
{"x":944,"y":477,"v":6.6e-3},{"x":950,"y":475.5,"v":6.6e-3},{"x":959,"y":475.3,"v":6.6e-3}
]
},
"encoding":{},
"layer":[
{"data":{"name":"wall"},"mark":{"type":"area","interpolate":"monotone"},"encoding":{"x":{"field":"x","type":"quantitative","scale":{"domain":[0,959],"nice":false,"zero":false},"axis":null},"y":{"field":"y","type":"quantitative","stack":null,"scale":{"domain":[579,0],"nice":false,"zero":false},"axis":null},"y2":{"datum":197},"fill":{"value":"#0000ff"}}},
{"data":{"name":"wall2"},"mark":{"type":"area","interpolate":"monotone"},"encoding":{"x":{"field":"x","type":"quantitative"},"y":{"field":"y","type":"quantitative","stack":null},"y2":{"datum":477},"fill":{"value":"#0000ff"}}},
{"data":{"name":"top"},"mark":{"type":"area","interpolate":"monotone"},"encoding":{"x":{"field":"x","type":"quantitative"},"y":{"field":"y","type":"quantitative","stack":null},"y2":{"datum":197},"detail":[{"field":"v","type":"quantitative"},{"field":"s","type":"nominal"}],"fill":{"field":"v","type":"quantitative","scale":{"type":"log","domain":[2e-5,2e-2],"range":["#0000ff","#00ffff","#00ff00","#ffff00","#ff0000"]},"legend":{"orient":"none","legendX":204,"legendY":503,"direction":"horizontal","title":"Velocity Magnitude [m/s]","titleAnchor":"middle","titleFontSize":21.3,"titleLimit":500,"titleFont":"Liberation Sans","titleFontWeight":"normal","titleColor":"#222","titlePadding":9,"gradientLength":576,"gradientThickness":18,"gradientStrokeColor":"#666","gradientStrokeWidth":1,"values":[2e-5,1.125e-4,6.325e-4,3.557e-3,2e-2],"labelExpr":"replace(format(datum.value,'.3e'),'e-','e-0')","labelFont":"Liberation Sans","labelFontSize":21,"labelColor":"#222","labelOverlap":false,"labelOffset":7,"encode":{"labels":{"update":{"align":{"value":"center"}}}}}}}},
{"data":{"name":"bottom"},"mark":{"type":"area","interpolate":"monotone"},"encoding":{"x":{"field":"x","type":"quantitative"},"y":{"field":"y","type":"quantitative","stack":null},"y2":{"datum":477},"detail":[{"field":"v","type":"quantitative"},{"field":"s","type":"nominal"}],"fill":{"field":"v","type":"quantitative"}}},
{"data":{"values":[{"x":49,"y":242,"x2":71,"y2":242},{"x":49,"y":242,"x2":49,"y2":220},{"x":49,"y":242,"x2":33,"y2":246},{"x":49,"y":542,"x2":71,"y2":542},{"x":49,"y":542,"x2":49,"y2":520},{"x":49,"y":542,"x2":33,"y2":546}]},"mark":{"type":"rule","color":"#555","strokeWidth":1.2},"encoding":{"x":{"field":"x","type":"quantitative"},"y":{"field":"y","type":"quantitative"},"x2":{"field":"x2"},"y2":{"field":"y2"}}},
{"data":{"values":[{"a":"X","x":70,"y":242,"x2":78,"y2":242},{"a":"Y","x":49,"y":221,"x2":49,"y2":214},{"a":"Z","x":33,"y":245.5,"x2":26,"y2":247},{"a":"X","x":70,"y":542,"x2":78,"y2":542},{"a":"Y","x":49,"y":521,"x2":49,"y2":514},{"a":"Z","x":33,"y":545.5,"x2":26,"y2":547}]},"mark":{"type":"rule","strokeWidth":3},"encoding":{"x":{"field":"x","type":"quantitative"},"y":{"field":"y","type":"quantitative"},"x2":{"field":"x2"},"y2":{"field":"y2"},"stroke":{"field":"a","type":"nominal","scale":{"domain":["X","Y","Z"],"range":["#f05050","#50e050","#6060e8"]},"legend":null}}},
{"data":{"values":[{"t":"X","x":83,"y":241},{"t":"Y","x":51,"y":208},{"t":"Z","x":26,"y":246},{"t":"X","x":83,"y":541},{"t":"Y","x":51,"y":508},{"t":"Z","x":26,"y":546}]},"mark":{"type":"text","fontSize":6,"font":"Liberation Sans","color":"#666","align":"center","baseline":"middle"},"encoding":{"x":{"field":"x","type":"quantitative"},"y":{"field":"y","type":"quantitative"},"text":{"field":"t"}}},
{"data":{"values":[{"t":"Inlet Velocity = 1.26e-6m/s","x":31,"y":22},{"t":"Inlet Velocity = 3.77e-6m/s","x":31,"y":303}]},"mark":{"type":"text","fontSize":23,"font":"Liberation Sans","color":"#222","align":"left","baseline":"middle"},"encoding":{"x":{"field":"x","type":"quantitative"},"y":{"field":"y","type":"quantitative"},"text":{"field":"t"}}},
{"data":{"values":[{"x":348,"y":546,"y2":550},{"x":492,"y":546,"y2":550},{"x":636,"y":546,"y2":550}]},"mark":{"type":"rule","color":"#333","strokeWidth":1},"encoding":{"x":{"field":"x","type":"quantitative"},"y":{"field":"y","type":"quantitative"},"y2":{"field":"y2"}}}
]}
